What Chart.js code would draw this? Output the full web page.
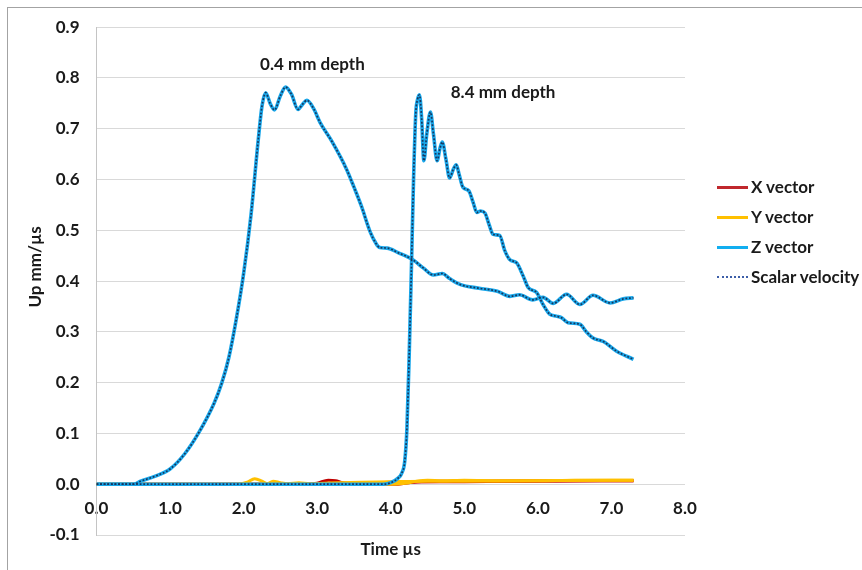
<!DOCTYPE html>
<html>
<head>
<meta charset="utf-8">
<script src="https://cdn.jsdelivr.net/npm/chart.js@4.4.1/dist/chart.umd.min.js"></script>
<style>
  html, body { margin: 0; padding: 0; background: #fff; overflow: hidden; width: 862px; height: 570px; }
  #wrap { position: relative; width: 862px; height: 570px; overflow: hidden; }
  #frame { position: absolute; left: 7px; top: 7px; width: 900px; height: 620px; border: 1px solid #a3a3a3; box-sizing: border-box; }
  #chart { position: absolute; left: 0; top: 0; }
  #legend { position: absolute; left: 717px; top: 0; font: bold 17px Lato, sans-serif; color: #1a1a1a; }
  .item { position: absolute; left: 0; height: 20px; white-space: nowrap; }
  .swatch { position: absolute; left: 0; width: 31px; top: 9px; height: 0; }
  .label { position: absolute; left: 34px; top: 0; line-height: 20px; }
</style>
</head>
<body>
<div id="wrap">
  <div id="frame"></div>
  <canvas id="chart" width="862" height="570"></canvas>
  <div id="legend"></div>
</div>
<script>
// ---------- data ----------
const seriesNames = ['X vector', 'Y vector', 'Z vector', 'Scalar velocity'];
const xTickValues = [0, 1, 2, 3, 4, 5, 6, 7, 8];
const yTickValues = [-0.1, 0, 0.1, 0.2, 0.3, 0.4, 0.5, 0.6, 0.7, 0.8, 0.9];
const xAxisTitle = 'Time µs';
const yAxisTitle = 'Up mm/µs';

// 0.4 mm depth
const xTime04 = [0, 2.8, 3.0, 3.15, 3.25, 3.35, 3.5, 4.0, 5.0, 6.0, 7.3];
const xVector04 = [0, 0, 0.002, 0.008, 0.007, 0.003, 0.002, 0.004, 0.005, 0.006, 0.007];
const yTime04 = [0, 1.9, 2.05, 2.15, 2.25, 2.32, 2.4, 2.5, 2.6, 2.75, 2.9, 3.1, 3.3, 3.6, 4.0, 4.5, 5.0, 6.0, 7.0, 7.3];
const yVector04 = [0, 0, 0.004, 0.011, 0.006, 0.001, 0.006, 0.003, 0.001, 0.003, 0.001, 0.002, 0.003, 0.004, 0.005, 0.006, 0.006, 0.007, 0.008, 0.008];
const zTime04 = [0, 0.5, 0.6, 0.8, 1.0, 1.2, 1.4, 1.6, 1.7, 1.8, 1.9, 2.0, 2.1, 2.2, 2.25, 2.3, 2.36, 2.42, 2.5, 2.57, 2.65, 2.74, 2.8, 2.86, 2.95, 3.04, 3.2, 3.4, 3.5, 3.6, 3.72, 3.8, 3.85, 3.95, 4.1, 4.3, 4.45, 4.58, 4.7, 4.8, 4.95, 5.2, 5.45, 5.62, 5.75, 5.93, 6.07, 6.21, 6.39, 6.57, 6.75, 6.98, 7.16, 7.3];
const zVector04 = [0, 0, 0.006, 0.016, 0.03, 0.06, 0.104, 0.16, 0.198, 0.25, 0.325, 0.415, 0.53, 0.68, 0.745, 0.771, 0.75, 0.737, 0.765, 0.782, 0.768, 0.738, 0.748, 0.756, 0.74, 0.712, 0.675, 0.62, 0.585, 0.548, 0.497, 0.474, 0.466, 0.465, 0.456, 0.442, 0.425, 0.412, 0.415, 0.405, 0.393, 0.386, 0.38, 0.37, 0.373, 0.363, 0.368, 0.356, 0.374, 0.354, 0.372, 0.357, 0.365, 0.367];
const scalarVelocity04 = [0, 0, 0.006, 0.016, 0.03, 0.06, 0.104, 0.16, 0.198, 0.25, 0.325, 0.415, 0.53, 0.68, 0.745, 0.771, 0.75, 0.737, 0.765, 0.782, 0.768, 0.738, 0.748, 0.756, 0.74, 0.712, 0.675, 0.62, 0.585, 0.548, 0.497, 0.474, 0.466, 0.465, 0.456, 0.442, 0.425, 0.412, 0.415, 0.405, 0.393, 0.386, 0.38, 0.37, 0.373, 0.363, 0.368, 0.356, 0.374, 0.354, 0.372, 0.357, 0.365, 0.367];

// 8.4 mm depth
const xTime84 = [0, 4.1, 4.3, 4.5, 5.0, 6.0, 7.3];
const xVector84 = [0, 0, 0.004, 0.006, 0.006, 0.007, 0.007];
const yTime84 = [0, 4.0, 4.2, 4.35, 4.5, 4.7, 5.0, 5.5, 6.0, 6.5, 7.0, 7.3];
const yVector84 = [0, 0, 0.002, 0.006, 0.008, 0.007, 0.008, 0.007, 0.007, 0.008, 0.008, 0.008];
const zTime84 = [0, 3.9, 4.0, 4.1, 4.15, 4.19, 4.22, 4.25, 4.28, 4.31, 4.34, 4.365, 4.39, 4.42, 4.45, 4.49, 4.54, 4.58, 4.63, 4.67, 4.70, 4.75, 4.80, 4.85, 4.89, 4.93, 4.98, 5.06, 5.12, 5.17, 5.22, 5.28, 5.34, 5.39, 5.48, 5.55, 5.62, 5.71, 5.8, 5.87, 5.98, 6.07, 6.16, 6.25, 6.32, 6.41, 6.57, 6.66, 6.75, 6.89, 7.07, 7.3];
const zVector84 = [0, 0, 0.003, 0.012, 0.022, 0.045, 0.11, 0.25, 0.42, 0.6, 0.73, 0.758, 0.767, 0.72, 0.637, 0.69, 0.733, 0.69, 0.637, 0.662, 0.674, 0.64, 0.603, 0.62, 0.629, 0.61, 0.585, 0.578, 0.555, 0.535, 0.538, 0.534, 0.51, 0.492, 0.49, 0.46, 0.442, 0.436, 0.41, 0.387, 0.378, 0.354, 0.335, 0.331, 0.328, 0.318, 0.315, 0.3, 0.288, 0.281, 0.262, 0.246];
const scalarVelocity84 = [0, 0, 0.003, 0.012, 0.022, 0.045, 0.11, 0.25, 0.42, 0.6, 0.73, 0.758, 0.767, 0.72, 0.637, 0.69, 0.733, 0.69, 0.637, 0.662, 0.674, 0.64, 0.603, 0.62, 0.629, 0.61, 0.585, 0.578, 0.555, 0.535, 0.538, 0.534, 0.51, 0.492, 0.49, 0.46, 0.442, 0.436, 0.41, 0.387, 0.378, 0.354, 0.335, 0.331, 0.328, 0.318, 0.315, 0.3, 0.288, 0.281, 0.262, 0.246];

// curve labels (text, time, value)
const depthNotes = [
  { text: '0.4 mm depth', t: 2.935, v: 0.826 },
  { text: '8.4 mm depth', t: 5.527, v: 0.771 }
];

// ---------- styling ----------
const textColor = '#1a1a1a';
const fontFamily = 'Lato, "Open Sans", sans-serif';
const colors = {
  'X vector': '#c00000',
  'Y vector': '#ffc000',
  'Z vector': '#1aa7ea',
  'Scalar velocity': '#17365d'
};
// lower value is drawn on top
const drawOrder = { 'Scalar velocity': 0, 'Z vector': 1, 'Y vector': 2, 'X vector': 3 };
const legendStyles = {
  'X vector': '3px solid #c0282d',
  'Y vector': '3px solid #ffc000',
  'Z vector': '3px solid #12aef0',
  'Scalar velocity': '2px dotted #3d5ea8'
};

function pts(t, v) { return t.map((tt, i) => ({ x: tt, y: v[i] })); }

function makeSet(name, t, v) {
  const isScalar = name === 'Scalar velocity';
  const isZ = name === 'Z vector';
  return {
    label: name,
    data: pts(t, v),
    order: drawOrder[name],
    borderColor: colors[name],
    backgroundColor: colors[name],
    borderWidth: isScalar ? 1.7 : (isZ ? 3.6 : 3),
    borderDash: isScalar ? [1.8, 1.8] : [],
    pointRadius: 0,
    fill: false,
    xAxisID: 'x',
    yAxisID: 'y'
  };
}

const datasets = [
  makeSet('X vector', xTime04, xVector04),
  makeSet('Y vector', yTime04, yVector04),
  makeSet('Z vector', zTime04, zVector04),
  makeSet('Scalar velocity', zTime04, scalarVelocity04),
  makeSet('X vector', xTime84, xVector84),
  makeSet('Y vector', yTime84, yVector84),
  makeSet('Z vector', zTime84, zVector84),
  makeSet('Scalar velocity', zTime84, scalarVelocity84)
];

const tickFont = { family: fontFamily, size: 17, weight: 'bold' };

const notesPlugin = {
  id: 'depthNotes',
  afterDatasetsDraw(chart) {
    const { ctx, scales } = chart;
    ctx.save();
    ctx.font = 'bold 17px ' + fontFamily;
    ctx.fillStyle = textColor;
    ctx.textAlign = 'center';
    ctx.textBaseline = 'middle';
    depthNotes.forEach(n => {
      ctx.fillText(n.text, scales.x.getPixelForValue(n.t), scales.y.getPixelForValue(n.v));
    });
    // vertical axis title
    ctx.translate(36, 267);
    ctx.rotate(-Math.PI / 2);
    ctx.fillText(yAxisTitle, 0, 0);
    ctx.restore();
  }
};

new Chart(document.getElementById('chart'), {
  type: 'line',
  data: { datasets },
  options: {
    responsive: false,
    animation: false,
    devicePixelRatio: 1,
    layout: { padding: { left: 0, top: 24, right: 177, bottom: 9.8 } },
    elements: { line: { cubicInterpolationMode: 'monotone' }, point: { radius: 0 } },
    plugins: { legend: { display: false }, tooltip: { enabled: false } },
    scales: {
      x: {
        type: 'linear', min: 0, max: 8,
        position: { y: 0 },
        afterBuildTicks: s => { s.ticks = xTickValues.map(v => ({ value: v })); },
        ticks: { callback: v => Number(v).toFixed(1), font: tickFont, color: textColor, padding: 14, maxRotation: 0, autoSkip: false },
        grid: { display: false, drawTicks: false },
        border: { display: false }
      },
      xTitle: {
        type: 'linear', min: 0, max: 8, position: 'bottom',
        ticks: { display: false },
        grid: { display: false, drawTicks: false },
        border: { display: false },
        title: { display: true, text: xAxisTitle, font: tickFont, color: textColor, padding: { top: 4.8, bottom: 0 } }
      },
      y: {
        type: 'linear', min: -0.1, max: 0.9, position: 'left',
        afterBuildTicks: s => { s.ticks = yTickValues.map(v => ({ value: v })); },
        afterFit: s => { s.width = 96.5; },
        ticks: { callback: v => Number(v).toFixed(1), font: tickFont, color: textColor, padding: 17 },
        grid: { color: '#d9d9d9', lineWidth: 1, drawTicks: false },
        border: { display: true, color: '#c4c4c4', width: 1 },
        title: { display: false }
      }
    }
  },
  plugins: [notesPlugin]
});

// legend (one entry per series name)
const legendCenters = [186.7, 216.7, 247.3, 277.3];
const legendEl = document.getElementById('legend');
seriesNames.forEach((name, i) => {
  const item = document.createElement('div');
  item.className = 'item';
  item.style.top = (legendCenters[i] - 10) + 'px';
  const sw = document.createElement('div');
  sw.className = 'swatch';
  sw.style.borderTop = legendStyles[name];
  const lb = document.createElement('div');
  lb.className = 'label';
  lb.textContent = name;
  item.appendChild(sw);
  item.appendChild(lb);
  legendEl.appendChild(item);
});
</script>
</body>
</html>
